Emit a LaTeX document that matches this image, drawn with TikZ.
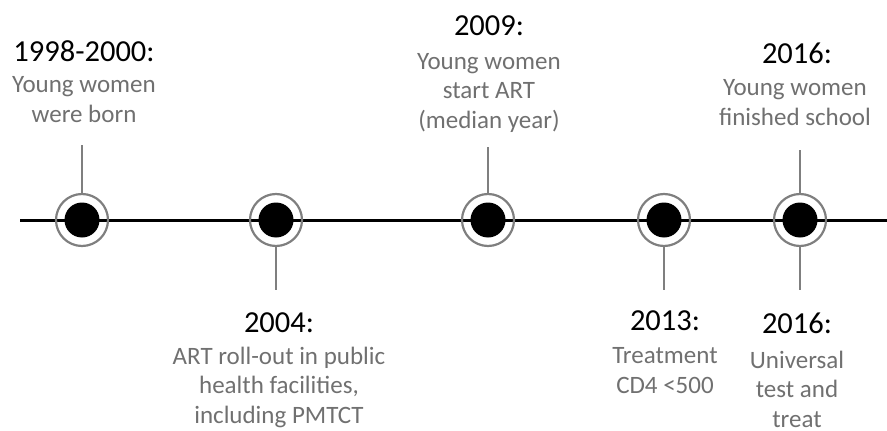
\documentclass[tikz,border=0pt]{standalone}
\usepackage{fontspec}
\setmainfont{Carlito}
\definecolor{desccol}{HTML}{707070}
\definecolor{ringcol}{HTML}{7F7F7F}
\tikzset{
  mline/.style={line width=3pt, draw=black},
  ringc/.style={circle, draw=ringcol, line width=2.2pt, minimum size=52pt, inner sep=0pt},
  dotc/.style={circle, fill=black, minimum size=35pt, inner sep=0pt},
  stem/.style={draw=ringcol, line width=2.5pt},
  yeartxt/.style={font=\fontsize{30.5}{34}\selectfont, anchor=base, inner sep=0pt},
  desctxt/.style={font=\fontsize{25}{29.5}\selectfont, text=desccol, align=center, anchor=base, inner sep=0pt},
}
\begin{document}
\begin{tikzpicture}[x=1pt,y=-1pt]
\useasboundingbox (0,0) rectangle (887,431);
% main line
\coordinate (L) at (20,220);
\coordinate (R) at (887,220);
\draw[mline] (L) -- (R);
% markers
\foreach \i/\x in {1/82,2/276,3/488,4/664,5/800}{
  \node[ringc] (r\i) at (\x,220) {};
  \node[dotc] (d\i) at (\x,220) {};
}
% stems
\coordinate (s1) at (82,145);
\coordinate (s2) at (276,290);
\coordinate (s3) at (488,147);
\coordinate (s4) at (664,290);
\coordinate (s5u) at (800,150);
\coordinate (s5d) at (800,290);
\draw[stem] (r1.north) -- (s1);
\draw[stem] (r2.south) -- (s2);
\draw[stem] (r3.north) -- (s3);
\draw[stem] (r4.south) -- (s4);
\draw[stem] (r5.north) -- (s5u);
\draw[stem] (r5.south) -- (s5d);
% texts (desc nodes anchored at the baseline of their last line)
\node[yeartxt] (y1) at (84,61) {1998-2000:};
\node[desctxt] (t1) at (84,122) {Young women\\were born};
\node[yeartxt] (y3) at (489,35) {2009:};
\node[desctxt] (t3) at (489,128) {Young women\\start ART\\(median year)};
\node[yeartxt] (y5) at (797,63) {2016:};
\node[desctxt] (t5) at (795,125) {Young women\\finished school};
\node[yeartxt] (y2) at (279,332) {2004:};
\node[desctxt] (t2) at (279,423) {ART roll-out in public\\health facilities,\\including PMTCT};
\node[yeartxt] (y4) at (665,330) {2013:};
\node[desctxt] (t4) at (665,393) {Treatment\\CD4 <500};
\node[yeartxt] (y6) at (797,333) {2016:};
\node[desctxt] (t6) at (797,427) {Universal\\test and\\treat};
\end{tikzpicture}
\end{document}
